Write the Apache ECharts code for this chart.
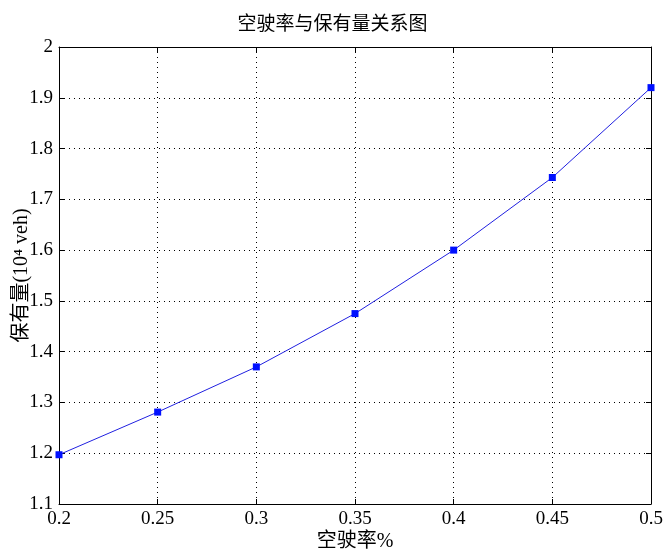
<!DOCTYPE html>
<html>
<head>
<meta charset="utf-8">
<script src="https://cdn.jsdelivr.net/npm/echarts@6/dist/echarts.min.js"></script>
<style>
  html, body { margin: 0; padding: 0; background: #fff; }
  #chart { width: 665px; height: 553px; }
</style>
</head>
<body>
<div id="chart"></div>
<script>
const emptyRate = [0.2, 0.25, 0.3, 0.35, 0.4, 0.45, 0.5]
const ownership = [1.197, 1.281, 1.370, 1.475, 1.600, 1.743, 1.920]

const font = '"Liberation Serif", "Noto Sans CJK SC", serif'

const chart = echarts.init(document.getElementById('chart'))

const data = emptyRate.map((x, i) => [x, ownership[i]])

const gridLine = { show: true, lineStyle: { color: '#000', type: [1, 4], width: 1 } }
const boxLine = { show: true, lineStyle: { color: '#000', width: 1 } }
const inTick = { show: true, inside: true, length: 5, lineStyle: { color: '#000' } }

chart.setOption({
  animation: false,
  title: {
    text: '空驶率与保有量关系图',
    left: 'center',
    top: 11,
    textStyle: { fontFamily: font, fontSize: 19, fontWeight: 'normal', color: '#000' }
  },
  grid: { left: 59, right: 14, top: 47, bottom: 49, outerBoundsMode: 'none' },
  xAxis: [
    {
      type: 'value',
      min: 0.2,
      max: 0.5,
      interval: 0.05,
      name: '空驶率%',
      nameLocation: 'middle',
      nameGap: 28,
      nameMoveOverlap: false,
      nameTextStyle: { fontFamily: font, fontSize: 20, color: '#000' },
      axisLine: boxLine,
      axisTick: inTick,
      splitLine: gridLine,
      axisLabel: { fontFamily: font, fontSize: 19, color: '#000', margin: 6 }
    },
    {
      type: 'value',
      position: 'top',
      min: 0.2,
      max: 0.5,
      interval: 0.05,
      axisLine: boxLine,
      axisTick: inTick,
      splitLine: { show: false },
      axisLabel: { show: false }
    }
  ],
  yAxis: [
    {
      type: 'value',
      min: 1.1,
      max: 2,
      interval: 0.1,
      name: '保有量(10⁴ veh)',
      nameLocation: 'middle',
      nameGap: 27,
      nameMoveOverlap: false,
      nameTextStyle: { fontFamily: font, fontSize: 20, color: '#000' },
      axisLine: boxLine,
      axisTick: inTick,
      splitLine: gridLine,
      axisLabel: {
        fontFamily: font, fontSize: 19, color: '#000', margin: 6,
        formatter: v => String(Math.round(v * 10) / 10)
      }
    },
    {
      type: 'value',
      position: 'right',
      min: 1.1,
      max: 2,
      interval: 0.1,
      axisLine: boxLine,
      axisTick: inTick,
      splitLine: { show: false },
      axisLabel: { show: false }
    }
  ],
  series: [
    {
      type: 'line',
      data: data,
      symbol: 'rect',
      symbolSize: 7,
      lineStyle: { color: '#2020e0', width: 1 },
      itemStyle: { color: '#0010ff' }
    }
  ]
})
</script>
</body>
</html>
